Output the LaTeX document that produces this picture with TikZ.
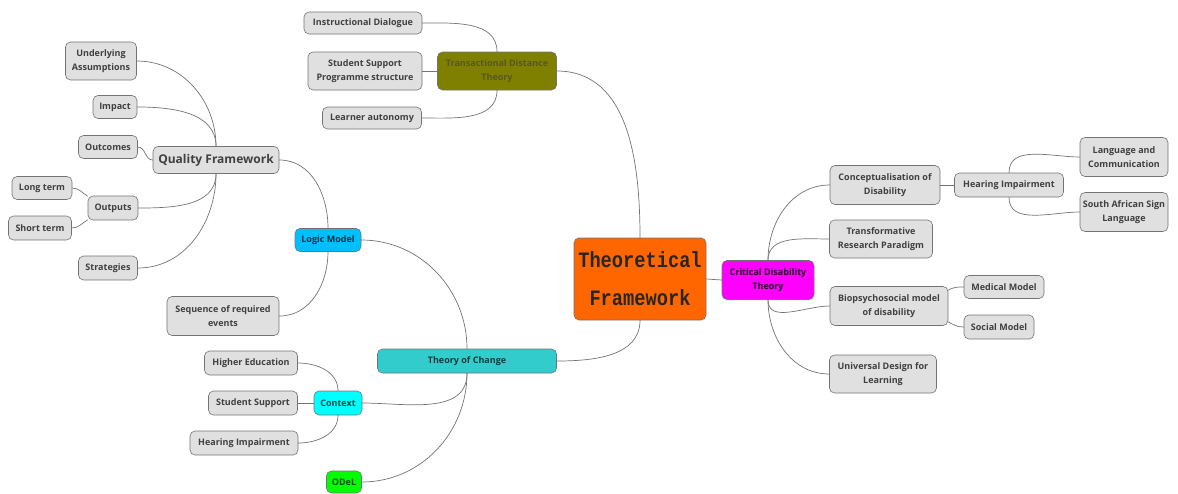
\documentclass[tikz,border=0pt]{standalone}
\usepackage{fontspec}
\setmainfont{Open Sans}
\newfontfamily\tffont[FakeStretch=0.85]{Liberation Mono}
\begin{document}
\begin{tikzpicture}[x=1pt,y=-1pt,line cap=round,font=\bfseries\fontsize{9}{14}\selectfont]
 \tikzset{
 box/.style={draw=gray!90!black,rounded corners=5pt,line width=.6pt,align=center,
  inner xsep=2pt,inner ysep=1pt,text=black!75},
 leaf/.style={box,fill=black!12},
 link/.style={draw=black!55,line width=.7pt}
 }
 \definecolor{olivebox}{HTML}{808000}
 \definecolor{tealbox}{HTML}{33CCCC}
 \definecolor{skybox}{HTML}{00BFFF}
 \definecolor{cyanbox}{HTML}{00FFFF}
 \definecolor{pinkbox}{HTML}{FF00FF}
 \definecolor{greenbox}{HTML}{00FF00}
 \definecolor{orangebox}{HTML}{FF6600}
 \useasboundingbox (0,0) rectangle (1178,493);
 % main topic
 \node[box,fill=orangebox,minimum width=132,minimum height=82,
  font=\tffont\bfseries\fontsize{22}{38}\selectfont,text=black!85] (tf) at (640,279) {Theoretical\\Framework};
 % transactional distance
 \node[box,fill=olivebox,text=black!45!olivebox!70!gray,minimum width=119,minimum height=38] (tdt) at (497,71) {Transactional Distance\\Theory};
 \node[leaf,minimum width=118,minimum height=22] (id) at (363,23) {Instructional Dialogue};
 \node[leaf,minimum width=114,minimum height=38] (ssp) at (365,71) {Student Support\\Programme structure};
 \node[leaf,minimum width=99,minimum height=22] (la) at (372,118) {Learner autonomy};
 % quality framework
 \node[leaf,minimum width=126,minimum height=27,font=\bfseries\fontsize{12}{14}\selectfont] (qf) at (216,160) {Quality Framework};
 \node[leaf,minimum width=71,minimum height=38] (ua) at (101,61) {Underlying\\Assumptions};
 \node[leaf,minimum width=44,minimum height=23] (im) at (115,107) {Impact};
 \node[leaf,minimum width=59,minimum height=23] (oc) at (108,147) {Outcomes};
 \node[leaf,minimum width=50,minimum height=24] (op) at (113,208) {Outputs};
 \node[leaf,minimum width=60,minimum height=23] (lt) at (42,188) {Long term};
 \node[leaf,minimum width=63,minimum height=24] (stt) at (40,228) {Short term};
 \node[leaf,minimum width=59,minimum height=24] (sg) at (108,268) {Strategies};
 % logic model and theory of change
 \node[box,fill=skybox,text=black!75!skybox,minimum width=66,minimum height=23] (lm) at (328,240) {Logic Model};
 \node[leaf,minimum width=112,minimum height=39] (sq) at (223,316) {Sequence of required\\events};
 \node[box,fill=tealbox,text=black!70!tealbox,minimum width=179,minimum height=24] (toc) at (467,361) {Theory of Change};
 \node[box,fill=cyanbox,text=black!70!cyanbox,minimum width=48,minimum height=24] (ctx) at (338,403) {Context};
 \node[leaf,minimum width=93,minimum height=24] (he) at (251,363) {Higher Education};
 \node[leaf,minimum width=89,minimum height=24] (ss) at (253,403) {Student Support};
 \node[leaf,minimum width=108,minimum height=24] (hil) at (244,443) {Hearing Impairment};
 \node[box,fill=greenbox,text=black!70!greenbox,minimum width=35,minimum height=22] (od) at (344,482) {ODeL};
 % critical disability theory
 \node[box,fill=pinkbox,text=black!85!pinkbox,minimum width=92,minimum height=39] (cdt) at (768,280) {Critical Disability\\Theory};
 \node[leaf,minimum width=110,minimum height=39] (cod) at (885,185) {Conceptualisation of\\Disability};
 \node[leaf,minimum width=109,minimum height=24] (hir) at (1009,185) {Hearing Impairment};
 \node[leaf,minimum width=88,minimum height=39] (lac) at (1124,157) {Language and\\Communication};
 \node[leaf,minimum width=88,minimum height=39] (sasl) at (1124,212) {South African Sign\\Language};
 \node[leaf,minimum width=103,minimum height=38] (trp) at (881,239) {Transformative\\Research Paradigm};
 \node[leaf,minimum width=118,minimum height=39] (bio) at (889,306) {Biopsychosocial model\\of disability};
 \node[leaf,minimum width=80,minimum height=23] (mm) at (1004,287) {Medical Model};
 \node[leaf,minimum width=70,minimum height=24] (sm) at (999,327) {Social Model};
 \node[leaf,minimum width=107,minimum height=38] (udl) at (883,374) {Universal Design for\\Learning};
 % connectors
 \begin{scope}[link]
 \draw (tf.north) to[out=90,in=0] (tdt.east);
 \draw (tf.south) to[out=-90,in=0] (toc.east);
 \draw (tf.east) -- (cdt.west);
 \draw (tdt.north) to[out=90,in=0] (id.east);
 \draw (tdt.west) -- (ssp.east);
 \draw (tdt.south) to[out=-90,in=0] (la.east);
 \draw (qf.north) to[out=90,in=0] (ua.east);
 \draw (qf.north) to[out=90,in=0] (im.east);
 \draw (qf.west) to[out=180,in=0] (oc.east);
 \draw (qf.south) to[out=-90,in=0] (op.east);
 \draw (qf.south) to[out=-90,in=0] (sg.east);
 \draw (op.155) to[out=150,in=0] (lt.east);
 \draw (op.205) to[out=210,in=0] (stt.east);
 \draw (qf.east) to[out=0,in=90] (lm.north);
 \draw (lm.south) to[out=-90,in=0] (sq.east);
 \draw (toc.north) to[out=90,in=0] (lm.east);
 \draw (toc.south) to[out=-90,in=0] (ctx.east);
 \draw (toc.south) to[out=-90,in=0] (od.east);
 \draw (ctx.north) to[out=90,in=0] (he.east);
 \draw (ctx.west) -- (ss.east);
 \draw (ctx.south) to[out=-90,in=0] (hil.east);
 \draw (cdt.north) to[out=90,in=180] (cod.west);
 \draw (cdt.north) to[out=90,in=180] (trp.west);
 \draw (cdt.south) to[out=-90,in=180] (bio.west);
 \draw (cdt.south) to[out=-90,in=180] (udl.west);
 \draw (cod.east) -- (hir.west);
 \draw (hir.north) to[out=90,in=180] (lac.west);
 \draw (hir.south) to[out=-90,in=180] (sasl.west);
 \draw (bio.15) to[out=30,in=180] (mm.west);
 \draw (bio.-15) to[out=-30,in=180] (sm.west);
 \end{scope}
\end{tikzpicture}
\end{document}
